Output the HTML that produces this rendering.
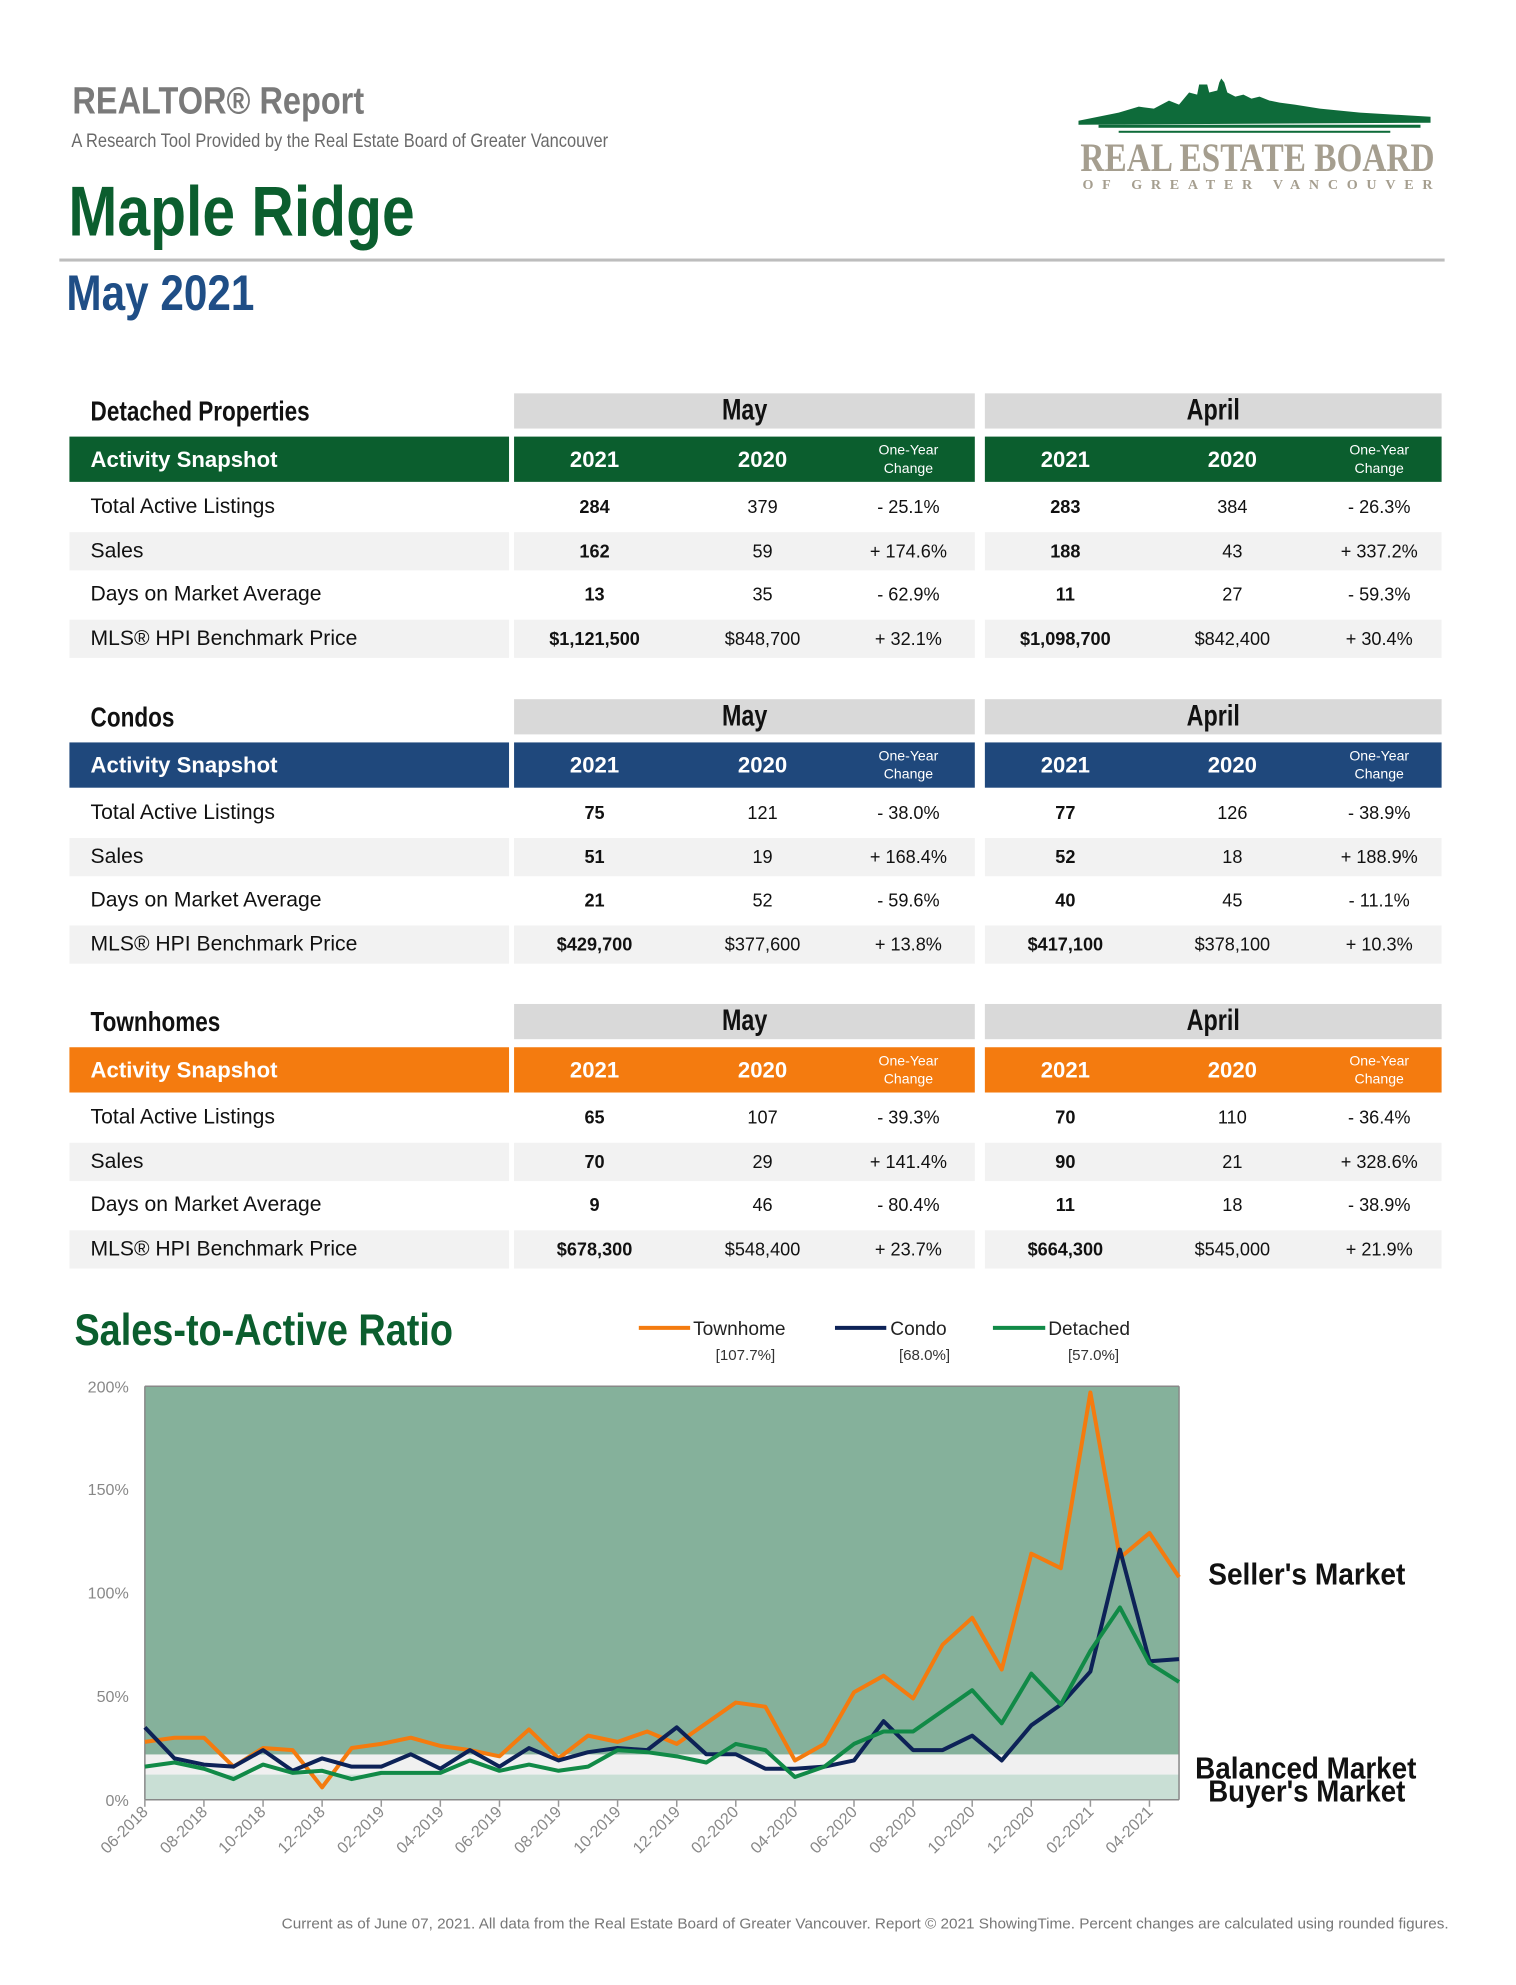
<!DOCTYPE html>
<html><head><meta charset="utf-8">
<style>
*{margin:0;padding:0;box-sizing:border-box}
body{width:1516px;height:1973px;background:#fff;position:relative;font-family:"Liberation Sans",Arial,sans-serif;overflow:hidden}
#w{position:absolute;left:0;top:0;width:1516px;height:1973px;transform:scale(1.006);transform-origin:0 0}
.a{position:absolute;white-space:nowrap}
.n{display:inline-block;transform:scaleX(.8);transform-origin:left center}
.sec{position:absolute;left:0;width:1516px;height:270px}
.ttl{position:absolute;left:90px;top:0;height:35px;line-height:35px;font-size:28px;font-weight:bold;color:#111}
.gbox{position:absolute;top:0;height:35px;background:#d9d9d9;text-align:center;line-height:35px;font-size:29px;font-weight:bold;color:#111}
.cbar{position:absolute;top:43px;height:45px;color:#fff}
.shade{position:absolute;height:38px;background:#f2f2f2}
.lbl{position:absolute;left:90px;font-size:21px;color:#111;height:38px;line-height:38px}
.v{position:absolute;width:160px;margin-left:-80px;text-align:center;font-size:18px;height:38px;line-height:38px;color:#111}
.b{font-weight:bold}
.hd{position:absolute;width:160px;margin-left:-80px;text-align:center;font-size:22px;font-weight:bold;top:0;line-height:45px}
.ch{position:absolute;width:100px;margin-left:-50px;text-align:center;font-size:14px;line-height:18px;top:4px}
</style></head><body><div id="w">

<div class="a" style="left:72px;top:80px;font-size:38px;font-weight:bold;color:#7a7a7a"><span class="n" style="transform:scaleX(.85)">REALTOR® Report</span></div>
<div class="a" style="left:71px;top:130px;font-size:19px;color:#6a6a6a"><span class="n" style="transform:scaleX(.86)">A Research Tool Provided by the Real Estate Board of Greater Vancouver</span></div>
<div class="a" style="left:68px;top:170px;font-size:70px;font-weight:bold;color:#0b5e2e"><span class="n" style="transform:scaleX(.835)">Maple Ridge</span></div>
<div class="a" style="left:59px;top:257px;width:1377px;height:3px;background:#bdbdbd"></div>
<div class="a" style="left:66px;top:262px;font-size:50px;font-weight:bold;color:#1f4e86"><span class="n" style="transform:scaleX(.84)">May 2021</span></div>

<svg class="a" style="left:1072px;top:78px" width="360" height="112" viewBox="0 0 360 112">
<path d="M0 42 L40 34 L60 28 L75 30 L90 22 L100 26 L110 14 L118 16 L120 6 L128 6 L130 14 L138 12 L140 4 L142 0 L145 4 L148 14 L156 18 L164 16 L172 20 L180 18 L190 22 L200 24 L215 26 L240 30 L280 34 L350 38 L350 44 L0 46 Z" fill="#0e6b3a"/>
<rect x="20" y="46" width="320" height="3" fill="#0e6b3a"/>
<rect x="40" y="52" width="270" height="2" fill="#0e6b3a"/>
<text x="2" y="92" font-family="Liberation Serif,serif" font-size="40" font-weight="bold" fill="#a59e8f" textLength="352" lengthAdjust="spacingAndGlyphs">REAL ESTATE BOARD</text>
<text x="4" y="110" font-family="Liberation Serif,serif" font-size="14" font-weight="bold" fill="#a59e8f" textLength="348" lengthAdjust="spacing">OF GREATER VANCOUVER</text>
</svg>

<div class="sec" style="top:391px">
 <div class="ttl"><span class="n">Detached Properties</span></div>
 <div class="gbox" style="left:511px;width:458px"><span class="n" style="transform-origin:center">May</span></div>
 <div class="gbox" style="left:979px;width:454px"><span class="n" style="transform-origin:center">April</span></div>
 <div class="cbar" style="left:69px;width:437px;background:#0b5e2e"><span class="a" style="left:21px;font-size:22px;font-weight:bold;line-height:45px">Activity Snapshot</span></div>
 <div class="cbar" style="left:511px;width:458px;background:#0b5e2e"><div class="hd" style="left:80px">2021</div><div class="hd" style="left:247px">2020</div><div class="ch" style="left:392px">One-Year<br>Change</div></div>
 <div class="cbar" style="left:979px;width:454px;background:#0b5e2e"><div class="hd" style="left:80px">2021</div><div class="hd" style="left:246px">2020</div><div class="ch" style="left:392px">One-Year<br>Change</div></div>
 <div class="shade" style="left:69px;width:437px;top:138px"></div><div class="shade" style="left:511px;width:458px;top:138px"></div><div class="shade" style="left:979px;width:454px;top:138px"></div>
 <div class="shade" style="left:69px;width:437px;top:225px"></div><div class="shade" style="left:511px;width:458px;top:225px"></div><div class="shade" style="left:979px;width:454px;top:225px"></div>
 <div class="lbl" style="top:94px">Total Active Listings</div><div class="lbl" style="top:138px">Sales</div><div class="lbl" style="top:181px">Days on Market Average</div><div class="lbl" style="top:225px">MLS® HPI Benchmark Price</div>
 <div class="v b" style="left:591px;top:94px">284</div><div class="v" style="left:758px;top:94px">379</div><div class="v" style="left:903px;top:94px">- 25.1%</div><div class="v b" style="left:1059px;top:94px">283</div><div class="v" style="left:1225px;top:94px">384</div><div class="v" style="left:1371px;top:94px">- 26.3%</div>
 <div class="v b" style="left:591px;top:138px">162</div><div class="v" style="left:758px;top:138px">59</div><div class="v" style="left:903px;top:138px">+ 174.6%</div><div class="v b" style="left:1059px;top:138px">188</div><div class="v" style="left:1225px;top:138px">43</div><div class="v" style="left:1371px;top:138px">+ 337.2%</div>
 <div class="v b" style="left:591px;top:181px">13</div><div class="v" style="left:758px;top:181px">35</div><div class="v" style="left:903px;top:181px">- 62.9%</div><div class="v b" style="left:1059px;top:181px">11</div><div class="v" style="left:1225px;top:181px">27</div><div class="v" style="left:1371px;top:181px">- 59.3%</div>
 <div class="v b" style="left:591px;top:225px">$1,121,500</div><div class="v" style="left:758px;top:225px">$848,700</div><div class="v" style="left:903px;top:225px">+ 32.1%</div><div class="v b" style="left:1059px;top:225px">$1,098,700</div><div class="v" style="left:1225px;top:225px">$842,400</div><div class="v" style="left:1371px;top:225px">+ 30.4%</div>
</div>

<div class="sec" style="top:695px">
 <div class="ttl"><span class="n">Condos</span></div>
 <div class="gbox" style="left:511px;width:458px"><span class="n" style="transform-origin:center">May</span></div>
 <div class="gbox" style="left:979px;width:454px"><span class="n" style="transform-origin:center">April</span></div>
 <div class="cbar" style="left:69px;width:437px;background:#1f487c"><span class="a" style="left:21px;font-size:22px;font-weight:bold;line-height:45px">Activity Snapshot</span></div>
 <div class="cbar" style="left:511px;width:458px;background:#1f487c"><div class="hd" style="left:80px">2021</div><div class="hd" style="left:247px">2020</div><div class="ch" style="left:392px">One-Year<br>Change</div></div>
 <div class="cbar" style="left:979px;width:454px;background:#1f487c"><div class="hd" style="left:80px">2021</div><div class="hd" style="left:246px">2020</div><div class="ch" style="left:392px">One-Year<br>Change</div></div>
 <div class="shade" style="left:69px;width:437px;top:138px"></div><div class="shade" style="left:511px;width:458px;top:138px"></div><div class="shade" style="left:979px;width:454px;top:138px"></div>
 <div class="shade" style="left:69px;width:437px;top:225px"></div><div class="shade" style="left:511px;width:458px;top:225px"></div><div class="shade" style="left:979px;width:454px;top:225px"></div>
 <div class="lbl" style="top:94px">Total Active Listings</div><div class="lbl" style="top:138px">Sales</div><div class="lbl" style="top:181px">Days on Market Average</div><div class="lbl" style="top:225px">MLS® HPI Benchmark Price</div>
 <div class="v b" style="left:591px;top:94px">75</div><div class="v" style="left:758px;top:94px">121</div><div class="v" style="left:903px;top:94px">- 38.0%</div><div class="v b" style="left:1059px;top:94px">77</div><div class="v" style="left:1225px;top:94px">126</div><div class="v" style="left:1371px;top:94px">- 38.9%</div>
 <div class="v b" style="left:591px;top:138px">51</div><div class="v" style="left:758px;top:138px">19</div><div class="v" style="left:903px;top:138px">+ 168.4%</div><div class="v b" style="left:1059px;top:138px">52</div><div class="v" style="left:1225px;top:138px">18</div><div class="v" style="left:1371px;top:138px">+ 188.9%</div>
 <div class="v b" style="left:591px;top:181px">21</div><div class="v" style="left:758px;top:181px">52</div><div class="v" style="left:903px;top:181px">- 59.6%</div><div class="v b" style="left:1059px;top:181px">40</div><div class="v" style="left:1225px;top:181px">45</div><div class="v" style="left:1371px;top:181px">- 11.1%</div>
 <div class="v b" style="left:591px;top:225px">$429,700</div><div class="v" style="left:758px;top:225px">$377,600</div><div class="v" style="left:903px;top:225px">+ 13.8%</div><div class="v b" style="left:1059px;top:225px">$417,100</div><div class="v" style="left:1225px;top:225px">$378,100</div><div class="v" style="left:1371px;top:225px">+ 10.3%</div>
</div>

<div class="sec" style="top:998px">
 <div class="ttl"><span class="n">Townhomes</span></div>
 <div class="gbox" style="left:511px;width:458px"><span class="n" style="transform-origin:center">May</span></div>
 <div class="gbox" style="left:979px;width:454px"><span class="n" style="transform-origin:center">April</span></div>
 <div class="cbar" style="left:69px;width:437px;background:#f47b0f"><span class="a" style="left:21px;font-size:22px;font-weight:bold;line-height:45px">Activity Snapshot</span></div>
 <div class="cbar" style="left:511px;width:458px;background:#f47b0f"><div class="hd" style="left:80px">2021</div><div class="hd" style="left:247px">2020</div><div class="ch" style="left:392px">One-Year<br>Change</div></div>
 <div class="cbar" style="left:979px;width:454px;background:#f47b0f"><div class="hd" style="left:80px">2021</div><div class="hd" style="left:246px">2020</div><div class="ch" style="left:392px">One-Year<br>Change</div></div>
 <div class="shade" style="left:69px;width:437px;top:138px"></div><div class="shade" style="left:511px;width:458px;top:138px"></div><div class="shade" style="left:979px;width:454px;top:138px"></div>
 <div class="shade" style="left:69px;width:437px;top:225px"></div><div class="shade" style="left:511px;width:458px;top:225px"></div><div class="shade" style="left:979px;width:454px;top:225px"></div>
 <div class="lbl" style="top:94px">Total Active Listings</div><div class="lbl" style="top:138px">Sales</div><div class="lbl" style="top:181px">Days on Market Average</div><div class="lbl" style="top:225px">MLS® HPI Benchmark Price</div>
 <div class="v b" style="left:591px;top:94px">65</div><div class="v" style="left:758px;top:94px">107</div><div class="v" style="left:903px;top:94px">- 39.3%</div><div class="v b" style="left:1059px;top:94px">70</div><div class="v" style="left:1225px;top:94px">110</div><div class="v" style="left:1371px;top:94px">- 36.4%</div>
 <div class="v b" style="left:591px;top:138px">70</div><div class="v" style="left:758px;top:138px">29</div><div class="v" style="left:903px;top:138px">+ 141.4%</div><div class="v b" style="left:1059px;top:138px">90</div><div class="v" style="left:1225px;top:138px">21</div><div class="v" style="left:1371px;top:138px">+ 328.6%</div>
 <div class="v b" style="left:591px;top:181px">9</div><div class="v" style="left:758px;top:181px">46</div><div class="v" style="left:903px;top:181px">- 80.4%</div><div class="v b" style="left:1059px;top:181px">11</div><div class="v" style="left:1225px;top:181px">18</div><div class="v" style="left:1371px;top:181px">- 38.9%</div>
 <div class="v b" style="left:591px;top:225px">$678,300</div><div class="v" style="left:758px;top:225px">$548,400</div><div class="v" style="left:903px;top:225px">+ 23.7%</div><div class="v b" style="left:1059px;top:225px">$664,300</div><div class="v" style="left:1225px;top:225px">$545,000</div><div class="v" style="left:1371px;top:225px">+ 21.9%</div>
</div>

<div class="a" style="left:74px;top:1298px;font-size:44px;font-weight:bold;color:#0b5e2e"><span class="n" style="transform:scaleX(.855)">Sales-to-Active Ratio</span></div>

<svg class="a" style="left:0;top:0" width="1516" height="1973">
 <g font-family="Liberation Sans,sans-serif">
 <line x1="635" y1="1320" x2="686" y2="1320" stroke="#f47b0f" stroke-width="4"/>
 <text x="689" y="1327" font-size="19" fill="#222">Townhome</text>
 <text x="741" y="1352" font-size="15" fill="#333" text-anchor="middle">[107.7%]</text>
 <line x1="830" y1="1320" x2="881" y2="1320" stroke="#0d2257" stroke-width="4"/>
 <text x="885" y="1327" font-size="19" fill="#222">Condo</text>
 <text x="919" y="1352" font-size="15" fill="#333" text-anchor="middle">[68.0%]</text>
 <line x1="987" y1="1320" x2="1039" y2="1320" stroke="#118a47" stroke-width="4"/>
 <text x="1042" y="1327" font-size="19" fill="#222">Detached</text>
 <text x="1087" y="1352" font-size="15" fill="#333" text-anchor="middle">[57.0%]</text>

 <rect x="144" y="1378" width="1028" height="366" fill="#85b19b"/>
 <rect x="144" y="1744" width="1028" height="20" fill="#f0f0f0"/>
 <rect x="144" y="1764" width="1028" height="25" fill="#c9dfd5"/>
 <line x1="144" y1="1378" x2="1172" y2="1378" stroke="#888" stroke-width="1.5"/>
 <line x1="1172" y1="1378" x2="1172" y2="1789" stroke="#888" stroke-width="1.5"/>
 <line x1="144" y1="1378" x2="144" y2="1789" stroke="#888" stroke-width="1.5"/>
 <line x1="144" y1="1789" x2="1172" y2="1789" stroke="#888" stroke-width="1.5"/>
 <g stroke="#999" stroke-width="1.5">
  <line x1="144" y1="1789" x2="144" y2="1796"/><line x1="202.7" y1="1789" x2="202.7" y2="1796"/><line x1="261.5" y1="1789" x2="261.5" y2="1796"/><line x1="320.2" y1="1789" x2="320.2" y2="1796"/><line x1="379" y1="1789" x2="379" y2="1796"/><line x1="437.7" y1="1789" x2="437.7" y2="1796"/><line x1="496.5" y1="1789" x2="496.5" y2="1796"/><line x1="555.2" y1="1789" x2="555.2" y2="1796"/><line x1="613.9" y1="1789" x2="613.9" y2="1796"/><line x1="672.7" y1="1789" x2="672.7" y2="1796"/><line x1="731.4" y1="1789" x2="731.4" y2="1796"/><line x1="790.2" y1="1789" x2="790.2" y2="1796"/><line x1="848.9" y1="1789" x2="848.9" y2="1796"/><line x1="907.6" y1="1789" x2="907.6" y2="1796"/><line x1="966.4" y1="1789" x2="966.4" y2="1796"/><line x1="1025.1" y1="1789" x2="1025.1" y2="1796"/><line x1="1083.9" y1="1789" x2="1083.9" y2="1796"/><line x1="1142.6" y1="1789" x2="1142.6" y2="1796"/>
 </g>
 <g font-size="16" fill="#888" text-anchor="end">
  <text x="128" y="1384">200%</text><text x="128" y="1486">150%</text><text x="128" y="1589">100%</text><text x="128" y="1692">50%</text><text x="128" y="1795">0%</text>
 </g>
 <g transform="translate(144,1789) scale(29.371,-2.055)" fill="none" stroke-width="4" stroke-linejoin="round">
  <polyline vector-effect="non-scaling-stroke" stroke="#f47b0f" points="0,28 1,30 2,30 3,16 4,25 5,24 6,6 7,25 8,27 9,30 10,26 11,24 12,21 13,34 14,20 15,31 16,28 17,33 18,27 19,37 20,47 21,45 22,19 23,27 24,52 25,60 26,49 27,75 28,88 29,63 30,119 31,112 32,197 33,117 34,129 35,107.7"/>
  <polyline vector-effect="non-scaling-stroke" stroke="#0d2257" points="0,35 1,20 2,17 3,16 4,24 5,14 6,20 7,16 8,16 9,22 10,15 11,24 12,16 13,25 14,19 15,23 16,25 17,24 18,35 19,22 20,22 21,15 22,15 23,16 24,19 25,38 26,24 27,24 28,31 29,19 30,36 31,46 32,62 33,121 34,67 35,68"/>
  <polyline vector-effect="non-scaling-stroke" stroke="#118a47" points="0,16 1,18 2,15 3,10 4,17 5,13 6,14 7,10 8,13 9,13 10,13 11,19 12,14 13,17 14,14 15,16 16,24 17,23 18,21 19,18 20,27 21,24 22,11 23,16 24,27 25,33 26,33 27,43 28,53 29,37 30,61 31,46 32,72 33,93 34,66 35,57"/>
 </g>
 <g font-size="16" fill="#888" text-anchor="end">
  <text transform="translate(148,1802) rotate(-45)">06-2018</text>
  <text transform="translate(207,1802) rotate(-45)">08-2018</text>
  <text transform="translate(265,1802) rotate(-45)">10-2018</text>
  <text transform="translate(324,1802) rotate(-45)">12-2018</text>
  <text transform="translate(383,1802) rotate(-45)">02-2019</text>
  <text transform="translate(442,1802) rotate(-45)">04-2019</text>
  <text transform="translate(500,1802) rotate(-45)">06-2019</text>
  <text transform="translate(559,1802) rotate(-45)">08-2019</text>
  <text transform="translate(618,1802) rotate(-45)">10-2019</text>
  <text transform="translate(677,1802) rotate(-45)">12-2019</text>
  <text transform="translate(735,1802) rotate(-45)">02-2020</text>
  <text transform="translate(794,1802) rotate(-45)">04-2020</text>
  <text transform="translate(853,1802) rotate(-45)">06-2020</text>
  <text transform="translate(912,1802) rotate(-45)">08-2020</text>
  <text transform="translate(970,1802) rotate(-45)">10-2020</text>
  <text transform="translate(1029,1802) rotate(-45)">12-2020</text>
  <text transform="translate(1088,1802) rotate(-45)">02-2021</text>
  <text transform="translate(1147,1802) rotate(-45)">04-2021</text>
 </g>
 <g font-size="30" font-weight="bold" fill="#111">
  <text x="1201" y="1575" textLength="196" lengthAdjust="spacingAndGlyphs">Seller's Market</text>
  <text x="1188" y="1768" textLength="220" lengthAdjust="spacingAndGlyphs">Balanced Market</text>
  <text x="1201" y="1791" textLength="196" lengthAdjust="spacingAndGlyphs">Buyer's Market</text>
 </g>
 <text x="1440" y="1917" font-size="15" fill="#777" text-anchor="end" textLength="1160" lengthAdjust="spacingAndGlyphs">Current as of June 07, 2021. All data from the Real Estate Board of Greater Vancouver. Report © 2021 ShowingTime. Percent changes are calculated using rounded figures.</text>
 </g>
</svg>
</div></body></html>
